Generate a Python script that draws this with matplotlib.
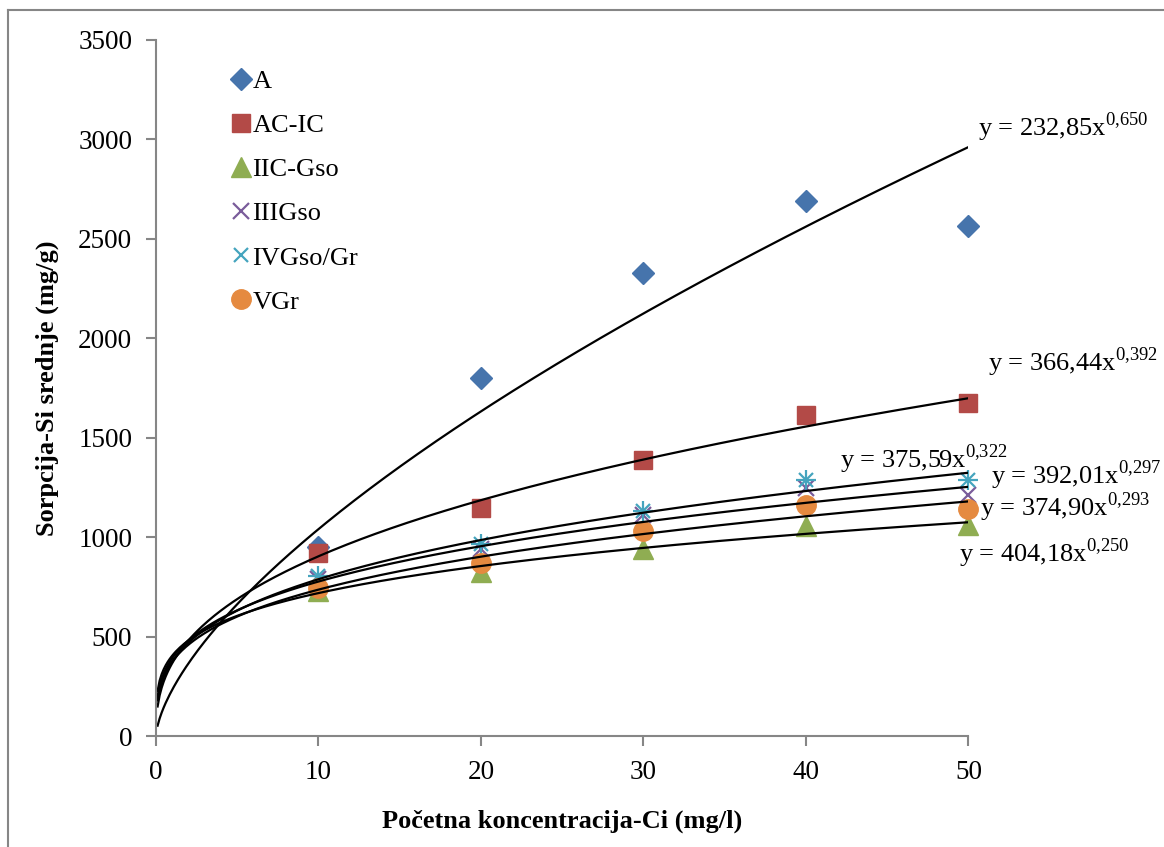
import matplotlib.pyplot as plt
import numpy as np
from matplotlib.lines import Line2D

plt.rcParams["font.family"] = ["Liberation Serif", "DejaVu Serif"]
plt.rcParams["mathtext.fontset"] = "custom"
plt.rcParams["mathtext.rm"] = "Liberation Serif"

# measured concentrations (mg/l)
conc = [10, 20, 30, 40, 50]

# sorption per soil horizon (mg/g)
s_a = [950, 1800, 2330, 2690, 2565]
s_ac_ic = [920, 1147, 1388, 1614, 1675]
s_iic_gso = [730, 825, 942, 1057, 1060]
s_iiigso = [790, 940, 1112, 1245, 1210]
s_ivgso_gr = [805, 965, 1130, 1285, 1288]
s_vgr = [742, 872, 1030, 1160, 1140]

names = ["A", "AC-IC", "IIC-Gso", "IIIGso", "IVGso/Gr", "VGr"]

# power trendline coefficients y = a * x^b
coef_a = [232.85, 366.44, 404.18, 374.90, 375.59, 392.01]
coef_b = [0.650, 0.392, 0.250, 0.293, 0.322, 0.297]

# where each trendline label sits (data coords)
label_xy = [(50.6, 3060), (51.2, 1880), (49.4, 920), (50.7, 1150),
            (42.1, 1392), (51.4, 1310)]

COLORS = ["#4674AC", "#B34A47", "#8FAD52", "#7A5C9B", "#45A4BE", "#E58A40"]
MARKERS = ["D", "s", "^", "x", "*", "o"]
SIZES = [11, 13, 14, 12, 14, 14]


def fmt(v, nd):
    return f"{v:.{nd}f}".replace(".", ",")


fig = plt.figure(figsize=(11.64, 8.47), dpi=100)
ax = fig.add_axes([0.134, 0.131, 0.698, 0.822])

series = [s_a, s_ac_ic, s_iic_gso, s_iiigso, s_ivgso_gr, s_vgr]
for vals, name, c, m, ms in zip(series, names, COLORS, MARKERS, SIZES):
    if m == "*":
        ax.plot(conc, vals, ls="none", marker="+", ms=ms, mew=1.6, color=c,
                clip_on=False)
        ax.plot(conc, vals, ls="none", marker="x", ms=ms * 0.75, mew=1.6,
                color=c, label=name, clip_on=False)
    elif m == "x":
        ax.plot(conc, vals, ls="none", marker=m, ms=ms, mew=1.6, color=c,
                label=name, clip_on=False)
    else:
        ax.plot(conc, vals, ls="none", marker=m, ms=ms, color=c, mec=c,
                label=name, clip_on=False)

xs = np.linspace(0.1, 50, 400)
for a, b, (lx, ly) in zip(coef_a, coef_b, label_xy):
    ax.plot(xs, a * xs ** b, color="black", lw=1.6)
    exp = fmt(b, 3).replace(",", "{,}")
    txt = f"y = {fmt(a, 2)}x$^{{{exp}}}$"
    ax.text(lx, ly, txt, fontsize=19, va="center", ha="left")

ax.set_xlim(0, 50)
ax.set_ylim(0, 3500)
ax.set_xticks(range(0, 51, 10))
ax.set_yticks(range(0, 3501, 500))
for side in ["top", "right"]:
    ax.spines[side].set_visible(False)
for side in ["left", "bottom"]:
    ax.spines[side].set_color("#868686")
    ax.spines[side].set_linewidth(1.5)
ax.tick_params(direction="out", length=7, width=1.5, color="#868686",
               labelsize=19.5, pad=10)
ax.set_xlabel("Početna koncentracija-Ci (mg/l)", fontsize=19,
              fontweight="bold", labelpad=18)
ax.set_ylabel("Sorpcija-Si srednje (mg/g)", fontsize=19,
              fontweight="bold", labelpad=14)

ax.legend(loc="upper left", bbox_to_anchor=(0.075, 0.972), frameon=False,
          fontsize=19, handletextpad=-0.05, labelspacing=0.78,
          handlelength=1.0, borderaxespad=0)

# outer chart border (only top and left are visible in the crop)
fig.add_artist(Line2D([8 / 1164, 1], [1 - 10 / 847, 1 - 10 / 847],
                      color="#868686", lw=1.5))
fig.add_artist(Line2D([8 / 1164, 8 / 1164], [0, 1 - 10 / 847],
                      color="#868686", lw=1.5))

fig.savefig("out.png", dpi=100)
